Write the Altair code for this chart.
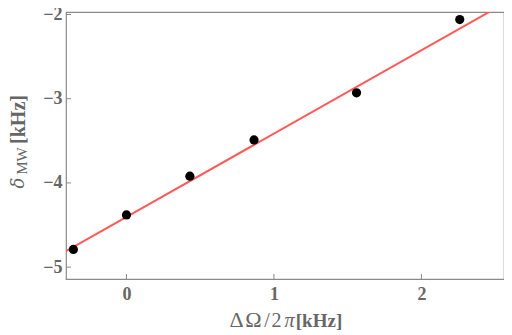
import altair as alt
import pandas as pd

# measured points
pt_x = [-0.36, 0.0, 0.43, 0.865, 1.56, 2.26]
pt_y = [-4.79, -4.38, -3.92, -3.49, -2.93, -2.06]

# fitted line end points
line_x = [-0.41, 2.56]
line_y = [-4.81, -1.87]

x_ticks = [0, 1, 2]
y_ticks = [-5, -4, -3, -2]

x_dom = [-0.41, 2.56]
y_dom = [-5.141, -1.970]

W, H = 438, 267
GRAY = "#666666"
FRAME = "#8a8a8a"
SERIF = "Liberation Serif"

pts = pd.DataFrame({"x": pt_x, "y": pt_y})
lin = pd.DataFrame({"x": line_x, "y": line_y})
xt = pd.DataFrame({"x": x_ticks})
yt = pd.DataFrame({"y": y_ticks})
one = pd.DataFrame({"a": [0]})

xs = alt.Scale(domain=x_dom, nice=False, zero=False)
ys = alt.Scale(domain=y_dom, nice=False, zero=False)

xaxis = alt.Axis(values=x_ticks, format="d", ticks=False, domain=False, grid=False,
                 labelFont=SERIF, labelFontWeight="bold", labelFontSize=18,
                 labelColor=GRAY, labelPadding=6, title=None)
yaxis = alt.Axis(values=y_ticks, format="d", ticks=False, domain=False, grid=False,
                 labelFont=SERIF, labelFontWeight="bold", labelFontSize=18,
                 labelColor=GRAY, labelPadding=4, title=None)

base_pts = alt.Chart(pts).mark_circle(size=85, color="black", opacity=1).encode(
    x=alt.X("x:Q", scale=xs, axis=xaxis),
    y=alt.Y("y:Q", scale=ys, axis=yaxis),
)

line = alt.Chart(lin).mark_line(color="#ff5a5a", strokeWidth=2, clip=True).encode(
    x=alt.X("x:Q", scale=xs),
    y=alt.Y("y:Q", scale=ys),
)

ytick = alt.Chart(yt).mark_rule(color=FRAME, strokeWidth=1).encode(
    y=alt.Y("y:Q", scale=ys), x=alt.value(0), x2=alt.value(5))
xtick = alt.Chart(xt).mark_rule(color=FRAME, strokeWidth=1).encode(
    x=alt.X("x:Q", scale=xs), y=alt.value(H), y2=alt.value(H - 5))


def txt(s, x, y, size, weight="normal", style="normal", angle=0, font=SERIF):
    return alt.Chart(one).mark_text(
        text=s, font=font, fontSize=size, fontWeight=weight, fontStyle=style,
        color=GRAY, angle=angle, align="center", baseline="alphabetic"
    ).encode(x=alt.value(x), y=alt.value(y))


# x-axis title  ΔΩ/2π[kHz]
xb = 315
xtitle = [
    txt("Δ", 170.5, xb, 22),
    txt("Ω", 187.5, xb, 22),
    txt("/", 201, xb, 20),
    txt("2", 210.5, xb, 20),
    txt("π", 223.5, xb, 20, style="italic"),
    txt("[kHz]", 253, xb, 19, weight="bold"),
]
# y-axis title  δ_MW [kHz]
ytitle = [
    txt("δ", -42, 171, 18, style="italic", angle=270, font="DejaVu Serif"),
    txt("MW", -39, 149, 15, angle=270),
    txt("[kHz]", -41, 107.5, 20, weight="bold", angle=270),
]

chart = alt.layer(line, base_pts, ytick, xtick, *xtitle, *ytitle).properties(
    width=W, height=H,
    padding={"left": 58, "top": 4, "right": 0, "bottom": 54},
    autosize=alt.AutoSizeParams(type="none"),
).configure_view(stroke=FRAME, strokeWidth=1.2)

chart.save("out.html", embed_options={"renderer": "svg", "actions": False})
